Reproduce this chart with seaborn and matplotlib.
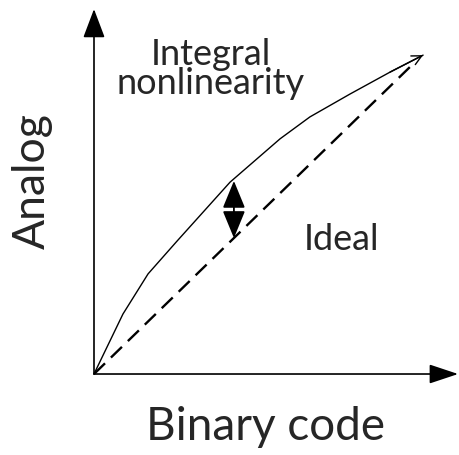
import numpy as np
import pandas as pd
import seaborn as sns
import matplotlib
matplotlib.use('Agg')
import matplotlib.pyplot as plt

# schematic data (arbitrary units, ideal line goes 0..10)
ideal_x = [0, 10]
ideal_y = [0, 10]
inl_x = [0, 0.91, 1.70, 2.61, 4.28, 5.85, 6.79, 8.05, 9.31, 10.35]
inl_y = [0, 1.94, 3.24, 4.30, 6.21, 7.61, 8.32, 9.06, 9.77, 10.32]
error_x = 4.40
error_top = 6.25

sns.set_style('white')
plt.rcParams['font.family'] = ['Lato', 'DejaVu Sans']

fig = plt.figure(figsize=(4.6, 4.56), dpi=100)
ax = fig.add_axes([0, 0, 1, 1])

df_ideal = pd.DataFrame({'x': ideal_x, 'y': ideal_y})
df_inl = pd.DataFrame({'x': inl_x, 'y': inl_y})

sns.lineplot(data=df_inl, x='x', y='y', color='black', lw=1.0, sort=False, ax=ax)
sns.lineplot(data=df_ideal, x='x', y='y', color='black', lw=1.7, ax=ax,
             dashes=False)
ax.lines[-1].set_dashes((6.5, 3.5))

# little arrow head at the end of the curve
ax.annotate('', xy=(inl_x[-1], inl_y[-1]), xytext=(inl_x[-2], inl_y[-2]),
            arrowprops=dict(arrowstyle='->,head_length=0.5,head_width=0.25',
                            color='black', lw=1.0, mutation_scale=14,
                            shrinkA=0, shrinkB=0))

# axes with arrows
ax.annotate('', xy=(0, 11.81), xytext=(0, 0),
            arrowprops=dict(arrowstyle='-|>,head_length=0.9,head_width=0.34',
                            color='black', lw=1.2, mutation_scale=20,
                            shrinkA=0, shrinkB=0))
ax.annotate('', xy=(11.45, 0), xytext=(0, 0),
            arrowprops=dict(arrowstyle='-|>,head_length=0.9,head_width=0.3',
                            color='black', lw=1.2, mutation_scale=20,
                            shrinkA=0, shrinkB=0))

# double arrow for the nonlinearity error
ax.annotate('', xy=(error_x, error_top), xytext=(error_x, error_x),
            arrowprops=dict(arrowstyle='<|-|>,head_length=0.85,head_width=0.35',
                            color='black', lw=1.3, mutation_scale=20,
                            shrinkA=0, shrinkB=0))

ax.text(3.66, 9.09, 'Integral\nnonlinearity', fontsize=26, ha='center',
        va='baseline', multialignment='center', linespacing=0.85)
ax.text(7.77, 4.05, 'Ideal', fontsize=26, ha='center', va='baseline')
ax.text(5.38, -2.10, 'Binary code', fontsize=33, ha='center', va='baseline')
ax.text(-1.54, 6.28, 'Analog', fontsize=32, ha='center', va='baseline',
        rotation=90, rotation_mode='anchor')

ax.set_xlim(-2.956, 11.51)
ax.set_ylim(-2.621, 12.136)
ax.axis('off')

fig.savefig('out.png', dpi=100, facecolor='white')
